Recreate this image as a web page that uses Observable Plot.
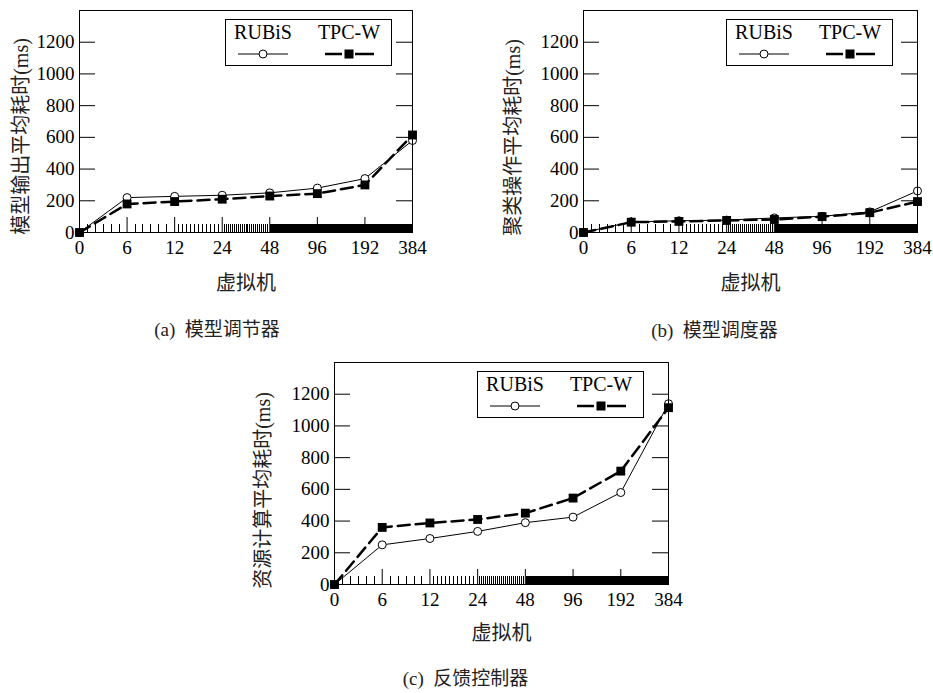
<!DOCTYPE html>
<html><head><meta charset="utf-8">
<script src="https://cdn.jsdelivr.net/npm/d3@7"></script>
<script src="https://cdn.jsdelivr.net/npm/@observablehq/plot@0.6"></script>
<style>
body{margin:0;background:#fff;}
#root{position:relative;width:933px;height:693px;overflow:hidden;background:#fff;}
</style></head><body><div id="root"></div>
<script>
// ---- data ----
const xValues = [0, 6, 12, 24, 48, 96, 192, 384];
const seriesNames = ["RUBiS", "TPC-W"];
const aRubis = [0, 220, 228, 235, 250, 280, 340, 580];
const aTpcw  = [0, 180, 195, 210, 230, 245, 300, 615];
const bRubis = [0, 67, 74, 78, 92, 102, 130, 262];
const bTpcw  = [0, 65, 70, 76, 82, 100, 125, 195];
const cRubis = [0, 250, 290, 335, 390, 425, 580, 1140];
const cTpcw  = [0, 360, 388, 410, 450, 545, 715, 1115];
const yTicks = [0, 200, 400, 600, 800, 1000, 1200];
const xLabel = "虚拟机";
const yLabels = ["模型输出平均耗时(ms)", "聚类操作平均耗时(ms)", "资源计算平均耗时(ms)"];
const captions = ["(a)  模型调节器", "(b)  模型调度器", "(c)  反馈控制器"];

// minor ticks: every integer between the labelled stops
const minorTicks = d3.range(1, 384).filter(v => !xValues.includes(v));

const FONT = "'Liberation Serif', 'Times New Roman', serif";
const CJK = "'Liberation Serif', 'Noto Sans CJK SC', serif";

const panels = [
  {left: 0,   top: 0,   width: 466, height: 345, ml: 79,  mr: 54, mt: 10, mb: 113,
   ylx: -58, yly: 15, xly: 51, cdx: -29, cdy: 97, lx: 225, ly: 19, rubis: aRubis, tpcw: aTpcw},
  {left: 466, top: 0,   width: 467, height: 345, ml: 117, mr: 16, mt: 10, mb: 113,
   ylx: -70, yly: 16, xly: 51, cdx: -36, cdy: 98, lx: 726, ly: 19, rubis: bRubis, tpcw: bTpcw},
  {left: 200, top: 340, width: 500, height: 353, ml: 134, mr: 32, mt: 22, mb: 109,
   ylx: -71, yly: 17, xly: 49, cdx: -36, cdy: 94, lx: 477, ly: 371, rubis: cRubis, tpcw: cTpcw}
];

const root = document.getElementById("root");

panels.forEach((cfg, k) => {
  const data = xValues.map((x, i) => ({x, rubis: cfg.rubis[i], tpcw: cfg.tpcw[i]}));
  const iw = cfg.width - cfg.ml - cfg.mr;
  const ih = cfg.height - cfg.mt - cfg.mb;
  const xRange = xValues.map((_, i) => cfg.ml + i * iw / (xValues.length - 1));
  const chart = Plot.plot({
    width: cfg.width, height: cfg.height,
    marginLeft: cfg.ml, marginRight: cfg.mr, marginTop: cfg.mt, marginBottom: cfg.mb,
    style: {fontFamily: FONT, fontSize: "19px", background: "transparent", color: "black", overflow: "visible"},
    x: {type: "linear", domain: xValues, range: xRange},
    y: {domain: [0, 1400]},
    marks: [
      Plot.tickX(minorTicks, {x: d => d, insetTop: ih - 8, stroke: "black", strokeWidth: 1, shapeRendering: "crispEdges"}),
      Plot.tickX(xValues.slice(1, -1), {x: d => d, insetTop: ih - 15, stroke: "black", strokeWidth: 1}),
      Plot.tickY(yTicks.slice(1), {y: d => d, insetRight: iw - 16, stroke: "black"}),
      Plot.tickY(yTicks.slice(1), {y: d => d, insetLeft: iw - 16, stroke: "black"}),
      Plot.axisX(xValues, {tickSize: 0, tickPadding: 8, tickFormat: d => String(d), fontSize: 19, fontFamily: FONT, label: null}),
      Plot.axisY(yTicks, {tickSize: 0, tickPadding: 5, tickFormat: d => String(d), fontSize: 19, fontFamily: FONT, label: null}),
      Plot.line(data, {x: "x", y: "rubis", stroke: "black", strokeWidth: 1}),
      Plot.line(data, {x: "x", y: "tpcw", stroke: "black", strokeWidth: 2.5, strokeDasharray: "12,6"}),
      Plot.dot(data, {x: "x", y: "rubis", r: 4, fill: "white", stroke: "black", strokeWidth: 1}),
      Plot.dot(data, {x: "x", y: "tpcw", r: 5, symbol: "square", fill: "black"}),
      Plot.frame({stroke: "black", strokeWidth: 1}),
      Plot.text([yLabels[k]], {frameAnchor: "left", textAnchor: "middle", lineAnchor: "middle", rotate: -90,
        dx: cfg.ylx, dy: cfg.yly, fontSize: 20, fontFamily: CJK, fill: "#222"}),
      Plot.text([xLabel], {frameAnchor: "bottom", lineAnchor: "middle", dy: cfg.xly, fontSize: 20, fontFamily: CJK, fill: "#222"}),
      Plot.text([captions[k]], {frameAnchor: "bottom", lineAnchor: "middle", dx: cfg.cdx, dy: cfg.cdy, fontSize: 19, fontFamily: CJK, fill: "#222"})
    ]
  });
  chart.style.position = "absolute";
  chart.style.left = cfg.left + "px";
  chart.style.top = cfg.top + "px";
  root.appendChild(chart);

  // legend box
  const lg = d3.create("svg").attr("width", 168).attr("height", 48)
    .style("position", "absolute").style("left", cfg.lx + "px").style("top", cfg.ly + "px")
    .style("font-family", FONT);
  lg.append("rect").attr("x", 0.5).attr("y", 0.5).attr("width", 166).attr("height", 46)
    .attr("fill", "white").attr("stroke", "black");
  const cx = [38, 124];
  seriesNames.forEach((name, j) => {
    lg.append("text").attr("x", cx[j]).attr("y", 20).attr("text-anchor", "middle")
      .attr("font-size", 20).text(name);
  });
  lg.append("line").attr("x1", cx[0] - 25).attr("x2", cx[0] + 25).attr("y1", 35).attr("y2", 35)
    .attr("stroke", "black").attr("stroke-width", 1);
  lg.append("line").attr("x1", cx[1] - 24).attr("x2", cx[1] - 7).attr("y1", 35).attr("y2", 35)
    .attr("stroke", "black").attr("stroke-width", 2.5);
  lg.append("line").attr("x1", cx[1] + 6).attr("x2", cx[1] + 25).attr("y1", 35).attr("y2", 35)
    .attr("stroke", "black").attr("stroke-width", 2.5);
  lg.append("circle").attr("cx", cx[0]).attr("cy", 35).attr("r", 4).attr("fill", "white").attr("stroke", "black");
  lg.append("rect").attr("x", cx[1] - 4.5).attr("y", 30.5).attr("width", 9).attr("height", 9).attr("fill", "black");
  root.appendChild(lg.node());
});
</script>
</body></html>
